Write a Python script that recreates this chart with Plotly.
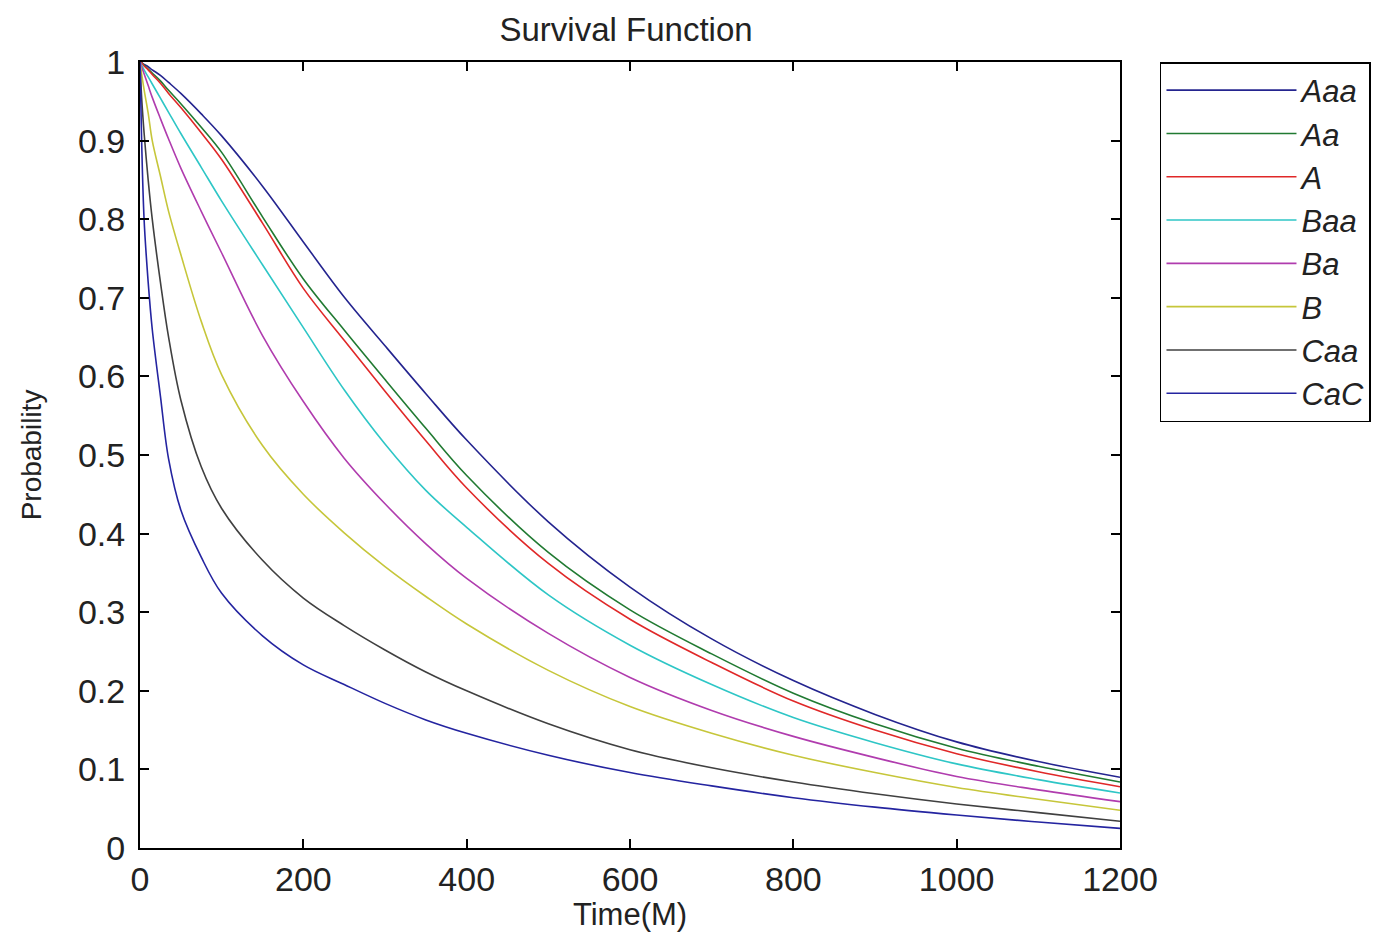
import plotly.graph_objects as go

# Time grid (months)
time_m = [0, 2, 5, 10, 15, 25, 35, 50, 75, 100, 150, 200, 250, 300, 350, 400,
          500, 600, 700, 800, 900, 1000, 1100, 1200]

aaa = [1.0, 0.999, 0.997, 0.994, 0.990, 0.983, 0.974, 0.960, 0.934, 0.906, 0.842, 0.771,
       0.701, 0.639, 0.578, 0.519, 0.415, 0.332, 0.266, 0.213, 0.170, 0.135, 0.110, 0.090]
aa = [1.0, 0.999, 0.996, 0.991, 0.986, 0.976, 0.964, 0.947, 0.917, 0.885, 0.803, 0.724,
      0.659, 0.596, 0.534, 0.474, 0.376, 0.303, 0.247, 0.197, 0.158, 0.127, 0.104, 0.084]
a = [1.0, 0.999, 0.995, 0.990, 0.984, 0.973, 0.960, 0.942, 0.910, 0.876, 0.795, 0.712,
     0.646, 0.581, 0.518, 0.458, 0.362, 0.291, 0.236, 0.187, 0.150, 0.120, 0.097, 0.078]
baa = [1.0, 0.996, 0.990, 0.981, 0.972, 0.954, 0.936, 0.909, 0.866, 0.823, 0.742, 0.662,
       0.583, 0.514, 0.455, 0.408, 0.322, 0.258, 0.208, 0.166, 0.134, 0.107, 0.087, 0.070]
ba = [1.0, 0.994, 0.985, 0.970, 0.955, 0.928, 0.902, 0.865, 0.810, 0.757, 0.652, 0.568,
      0.496, 0.438, 0.387, 0.343, 0.273, 0.217, 0.175, 0.142, 0.115, 0.091, 0.074, 0.059]
b = [1.0, 0.985, 0.965, 0.935, 0.900, 0.855, 0.810, 0.755, 0.670, 0.602, 0.512, 0.450,
     0.401, 0.358, 0.320, 0.285, 0.226, 0.180, 0.146, 0.118, 0.096, 0.077, 0.062, 0.048]
caa = [1.0, 0.955, 0.910, 0.850, 0.800, 0.720, 0.650, 0.570, 0.485, 0.432, 0.366, 0.318,
       0.283, 0.252, 0.224, 0.200, 0.158, 0.125, 0.102, 0.084, 0.069, 0.056, 0.045, 0.034]
cac = [1.0, 0.900, 0.800, 0.720, 0.660, 0.575, 0.495, 0.430, 0.370, 0.324, 0.270, 0.233,
       0.208, 0.184, 0.163, 0.146, 0.118, 0.096, 0.079, 0.064, 0.052, 0.042, 0.033, 0.025]

series_names = ["Aaa", "Aa", "A", "Baa", "Ba", "B", "Caa", "CaC"]
series_values = [aaa, aa, a, baa, ba, b, caa, cac]
series_colors = ["#24248f", "#217a32", "#e02828", "#2ec6c6", "#b03cae",
                 "#c6c63a", "#404040", "#2424a0"]

x_ticks = [0, 200, 400, 600, 800, 1000, 1200]
y_ticks = [0, 0.1, 0.2, 0.3, 0.4, 0.5, 0.6, 0.7, 0.8, 0.9, 1]
y_tick_text = ["0", "0.1", "0.2", "0.3", "0.4", "0.5", "0.6", "0.7", "0.8", "0.9", "1"]

FONT = "Liberation Sans, Arial, Helvetica, sans-serif"

fig = go.Figure()
for i, (name, vals, col) in enumerate(zip(series_names, series_values, series_colors)):
    fig.add_trace(go.Scatter(
        x=time_m, y=vals, mode="lines", name=name, legendgroup=f"g{i}",
        line=dict(color=col, width=1.6, shape="spline", smoothing=1.0),
    ))

axis_common = dict(
    showline=True, linecolor="black", linewidth=2, mirror="ticks",
    ticks="inside", ticklen=9, tickwidth=1.5, tickcolor="black",
    showgrid=False, zeroline=False, automargin=False,
    tickfont=dict(family=FONT, size=34, color="#222"),
)

# page body has an 8px default margin, so the figure is 8px smaller than the window
fig.update_layout(
    width=1387, height=924,
    paper_bgcolor="white", plot_bgcolor="white",
    margin=dict(l=132, r=275, t=54, b=84, autoexpand=False),
    title=dict(text="Survival Function", x=0.4456, xref="container", xanchor="center",
               y=0.977, yref="container", yanchor="middle",
               font=dict(family=FONT, size=33, color="#222")),
    xaxis=dict(range=[0, 1200], tickvals=x_ticks,
               title=dict(text="Time(M)", font=dict(family=FONT, size=31, color="#222"), standoff=2),
               **axis_common),
    yaxis=dict(range=[0, 1], tickvals=y_ticks, ticktext=y_tick_text, ticklabelstandoff=6,
               title=dict(text="Probability", font=dict(family=FONT, size=28, color="#222"), standoff=28),
               **axis_common),
    showlegend=True,
    legend=dict(x=1.0408, xanchor="left", y=1, yanchor="top",
                bordercolor="black", borderwidth=1.5, bgcolor="white",
                font=dict(family=FONT, size=31, color="#222", style="italic"),
                itemwidth=130, tracegroupgap=0, traceorder="normal"),
)

fig.write_html("out.html")
